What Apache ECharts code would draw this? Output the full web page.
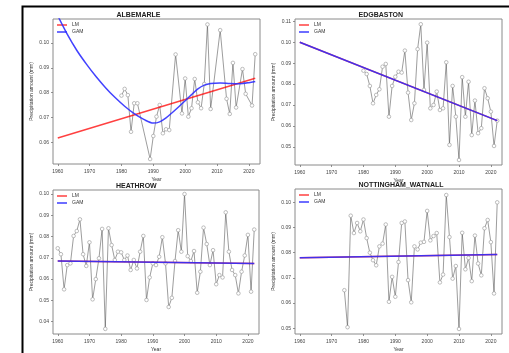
<!doctype html>
<html lang="en">
<head>
<meta charset="UTF-8">
<title>Precipitation trends</title>
<style>
    html, body { margin: 0; padding: 0; background: #fff; }
    #main { width: 509px; height: 353px; }
</style>
<script src="https://cdn.jsdelivr.net/npm/echarts@6.0.0/dist/echarts.min.js"></script>
</head>
<body>
<div id="main"></div>
<script>
// ---- data ----
var stations = ['ALBEMARLE', 'EDGBASTON', 'HEATHROW', 'NOTTINGHAM_WATNALL'];
var yearTicks = [1960, 1970, 1980, 1990, 2000, 2010, 2020];

var albYears = [1980, 1981, 1982, 1983, 1984, 1985, 1989, 1990, 1991, 1992, 1993, 1994, 1995, 1997, 1999,
    2000, 2001, 2002, 2003, 2004, 2005, 2006, 2007, 2008, 2011, 2013, 2014, 2015, 2016, 2018, 2019, 2021, 2022];
var albValues = [0.0788, 0.0815, 0.0790, 0.0642, 0.0757, 0.0757, 0.0532, 0.0625, 0.0703, 0.0750, 0.0636, 0.0652, 0.0649, 0.0954, 0.0716,
    0.0857, 0.0703, 0.0737, 0.0855, 0.0761, 0.0737, 0.0835, 0.1075, 0.0734, 0.1052, 0.0775, 0.0714, 0.0920, 0.0740, 0.0895, 0.0795, 0.0748, 0.0955];
var albLmYears = [1960, 2022];
var albLm = [0.0617, 0.0858];
var albGamYears = [1960, 1963, 1966, 1969, 1972, 1975, 1978, 1981, 1984, 1987, 1990, 1992, 1994, 1996, 1998,
    2000, 2002, 2004, 2006, 2008, 2011, 2014, 2017, 2020, 2022];
var albGam = [0.1110, 0.1035, 0.0970, 0.0915, 0.0865, 0.0820, 0.0780, 0.0745, 0.0715, 0.0692, 0.0677, 0.0682, 0.0698, 0.0720, 0.0743,
    0.0767, 0.0792, 0.0815, 0.0830, 0.0837, 0.0839, 0.0837, 0.0836, 0.0840, 0.0845];

var edgFirstYear = 1980;
var edgValues = [0.0864, 0.0848, 0.0791, 0.0708, 0.0748, 0.0775, 0.0883, 0.0896, 0.0644, 0.0791,
    0.0835, 0.0859, 0.0855, 0.0960, 0.0759, 0.0628, 0.0708, 0.0967, 0.1086, 0.0772,
    0.0998, 0.0684, 0.0700, 0.0764, 0.0676, 0.0684, 0.0904, 0.0509, 0.0791, 0.0644,
    0.0437, 0.0833, 0.0644, 0.0811, 0.0556, 0.0721, 0.0565, 0.0589, 0.0780, 0.0732,
    0.0668, 0.0504, 0.0625];
var edgLmYears = [1960, 2022];
var edgLm = [0.1000, 0.0625];
var edgGam = [0.1000, 0.0625];

var heaFirstYear = 1960;
var heaValues = [0.0745, 0.0717, 0.0552, 0.0666, 0.0674, 0.0803, 0.0826, 0.0881, 0.0717, 0.0662,
    0.0773, 0.0505, 0.0600, 0.0698, 0.0836, 0.0366, 0.0839, 0.0760, 0.0690, 0.0729,
    0.0726, 0.0690, 0.0711, 0.0643, 0.0690, 0.0650, 0.0729, 0.0803, 0.0502, 0.0608,
    0.0674, 0.0666, 0.0705, 0.0797, 0.0674, 0.0469, 0.0512, 0.0685, 0.0830, 0.0729,
    0.1000, 0.0708, 0.0685, 0.0732, 0.0536, 0.0635, 0.0842, 0.0765, 0.0666, 0.0736,
    0.0576, 0.0619, 0.0608, 0.0914, 0.0729, 0.0643, 0.0619, 0.0533, 0.0635, 0.0711,
    0.0808, 0.0541, 0.0833];
var heaLmYears = [1960, 2022];
var heaLm = [0.0685, 0.0674];
var heaGam = [0.0685, 0.0674];

var notFirstYear = 1974;
var notValues = [0.0651, 0.0504, 0.0947, 0.0878, 0.0918, 0.0885,
    0.0932, 0.0858, 0.0800, 0.0770, 0.0750, 0.0825, 0.0836, 0.0912, 0.0605, 0.0704,
    0.0625, 0.0763, 0.0918, 0.0924, 0.0691, 0.0603, 0.0825, 0.0813, 0.0840, 0.0843,
    0.0966, 0.0849, 0.0866, 0.0878, 0.0682, 0.0713, 0.1029, 0.0862, 0.0697, 0.0747,
    0.0497, 0.0879, 0.0734, 0.0779, 0.0687, 0.0868, 0.0757, 0.0710, 0.0897, 0.0930,
    0.0842, 0.0638, 0.1000];
var notLmYears = [1960, 2022];
var notLm = [0.0780, 0.0793];
var notGam = [0.0780, 0.0793];

var yTicks = [
    [0.06, 0.07, 0.08, 0.09, 0.10],
    [0.05, 0.06, 0.07, 0.08, 0.09, 0.10, 0.11],
    [0.04, 0.05, 0.06, 0.07, 0.08, 0.09, 0.10],
    [0.05, 0.06, 0.07, 0.08, 0.09, 0.10]
];
var yRanges = [[0.0512, 0.1097], [0.0413, 0.1111], [0.0342, 0.1019], [0.0477, 0.1053]];
var xRange = [1958.5, 2023.5];

// ---- layout ----
var grids = [
    {left: 53, top: 19, width: 207, height: 145},
    {left: 295, top: 19, width: 207, height: 146},
    {left: 53, top: 190, width: 206, height: 144},
    {left: 295, top: 189, width: 207, height: 145}
];

function pairs(xs, ys) {
    return xs.map(function (x, i) { return [x, ys[i]]; });
}
function seq(first, ys) {
    return ys.map(function (y, i) { return [first + i, y]; });
}

var font = 'Liberation Sans, Arial, sans-serif';
var obsData = [
    pairs(albYears, albValues),
    seq(edgFirstYear, edgValues),
    seq(heaFirstYear, heaValues),
    seq(notFirstYear, notValues)
];
var lmData = [pairs(albLmYears, albLm), pairs(edgLmYears, edgLm), pairs(heaLmYears, heaLm), pairs(notLmYears, notLm)];
var gamData = [pairs(albGamYears, albGam), pairs(edgLmYears, edgGam), pairs(heaLmYears, heaGam), pairs(notLmYears, notGam)];

var xAxes = [], yAxes = [], series = [], legends = [], graphics = [];
grids.forEach(function (g, i) {
    g.show = true;
    g.borderColor = '#8a8a8a';
    g.borderWidth = 1;
    g.containLabel = false;
    xAxes.push({
        type: 'value', gridIndex: i, min: xRange[0], max: xRange[1],
        name: 'Year', nameLocation: 'middle', nameGap: 13,
        nameTextStyle: {fontSize: 5, color: '#333', fontFamily: font},
        axisLine: {show: false},
        axisTick: {show: true, customValues: yearTicks, length: 2, lineStyle: {color: '#777', width: 0.8}},
        axisLabel: {customValues: yearTicks, fontSize: 5, color: '#444', margin: 5, fontFamily: font,
            formatter: function (v) { return String(v); }},
        splitLine: {show: false}
    });
    yAxes.push({
        type: 'value', gridIndex: i, min: yRanges[i][0], max: yRanges[i][1],
        name: 'Precipitation amount (mm)', nameLocation: 'middle', nameGap: 19,
        nameTextStyle: {fontSize: 5, color: '#333', fontFamily: font},
        axisLine: {show: false},
        axisTick: {show: true, customValues: yTicks[i], length: 2, lineStyle: {color: '#777', width: 0.8}},
        axisLabel: {customValues: yTicks[i], fontSize: 5, color: '#444', margin: 4, fontFamily: font,
            formatter: function (v) { return v.toFixed(2); }},
        splitLine: {show: false}
    });
    series.push({
        name: stations[i], type: 'line', xAxisIndex: i, yAxisIndex: i,
        data: obsData[i], symbol: 'circle', symbolSize: 3.6,
        itemStyle: {color: '#fff', borderColor: '#a0a0a0', borderWidth: 0.7},
        lineStyle: {color: '#3a3a3a', width: 0.5},
        z: 2, silent: true
    });
    series.push({
        name: 'LM', type: 'line', xAxisIndex: i, yAxisIndex: i,
        data: lmData[i], symbol: 'none',
        itemStyle: {color: '#ff4040'},
        lineStyle: {color: 'rgba(255,0,0,0.75)', width: 1.5},
        z: 3, silent: true
    });
    series.push({
        name: 'GAM', type: 'line', xAxisIndex: i, yAxisIndex: i,
        data: gamData[i], symbol: 'none', smooth: i === 0 ? 0.3 : false,
        itemStyle: {color: '#3c3cff'},
        lineStyle: {color: 'rgba(45,45,255,0.9)', width: 1.5},
        z: 4, silent: true
    });
    legends.push({
        data: ['LM', 'GAM'], orient: 'vertical', left: g.left + 4, top: g.top + 3,
        padding: 0, icon: 'rect', itemWidth: 10, itemHeight: 1.5, itemGap: 1,
        selectedMode: false,
        textStyle: {fontSize: 5, color: '#333', fontFamily: font, lineHeight: 6}
    });
    graphics.push({
        type: 'text', left: g.left + g.width / 2 - 40, top: g.top - 7,
        style: {text: stations[i], x: 0, y: 0, width: 80, align: 'center',
            font: 'bold 7px ' + font, fill: '#222'}
    });
});

graphics.push({
    type: 'rect', left: 20, top: 4,
    shape: {x: 0, y: 0, width: 489, height: 360},
    style: {fill: 'none', stroke: '#000', lineWidth: 2}
});

var chart = echarts.init(document.getElementById('main'), null, {renderer: 'canvas'});
chart.setOption({
    animation: false,
    backgroundColor: '#fff',
    grid: grids,
    xAxis: xAxes,
    yAxis: yAxes,
    legend: legends,
    series: series,
    graphic: graphics
});
</script>
</body>
</html>
